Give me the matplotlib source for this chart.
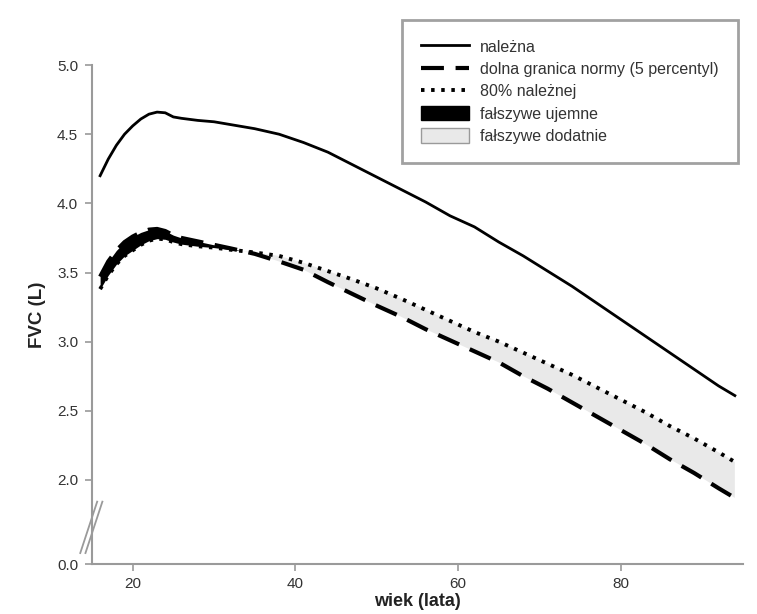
import matplotlib
matplotlib.use("Agg")
import matplotlib.pyplot as plt
import numpy as np

plt.rcParams['font.family'] = ['Liberation Sans', 'DejaVu Sans']

# ---- data ----
age_pred = [16, 17, 18, 19, 20, 21, 22, 23, 24, 25, 26, 28, 30, 32, 35, 38,
            41, 44, 47, 50, 53, 56, 59, 62, 65, 68, 71, 74, 77, 80, 83, 86,
            89, 92, 94]
fvc_pred = [4.20, 4.32, 4.42, 4.50, 4.56, 4.61, 4.645, 4.66, 4.655, 4.625,
            4.615, 4.60, 4.59, 4.57, 4.54, 4.50, 4.44, 4.37, 4.28, 4.19,
            4.10, 4.01, 3.91, 3.83, 3.72, 3.62, 3.51, 3.40, 3.28, 3.16,
            3.04, 2.92, 2.80, 2.68, 2.61]
fvc_80 = [3.38, 3.48, 3.56, 3.62, 3.66, 3.70, 3.73, 3.745, 3.74, 3.72,
          3.705, 3.69, 3.68, 3.665, 3.645, 3.62, 3.57, 3.51, 3.45, 3.385,
          3.31, 3.23, 3.15, 3.07, 3.00, 2.92, 2.84, 2.76, 2.67, 2.58,
          2.49, 2.39, 2.30, 2.20, 2.13]
fvc_lln = [3.47, 3.58, 3.66, 3.72, 3.76, 3.79, 3.81, 3.815, 3.80, 3.77,
           3.75, 3.725, 3.70, 3.675, 3.635, 3.58, 3.52, 3.43, 3.345, 3.26,
           3.18, 3.09, 3.01, 2.93, 2.85, 2.75, 2.66, 2.56, 2.46, 2.36,
           2.26, 2.15, 2.05, 1.94, 1.87]

x_ticks = [20, 40, 60, 80]
y_ticks = [2.0, 2.5, 3.0, 3.5, 4.0, 4.5, 5.0]
y_bottom = 1.392
bottom_label = "0.0"

labels = ["należna", "dolna granica normy (5 percentyl)", "80% należnej",
          "fałszywe ujemne", "fałszywe dodatnie"]

# ---- figure ----
fig = plt.figure(figsize=(7.57, 6.14), dpi=100)
ax = fig.add_axes([0.1215, 0.0814, 0.86, 0.8126])

a = np.array(age_pred, dtype=float)
p80 = np.array(fvc_80)
lln = np.array(fvc_lln)

ax.fill_between(a, p80, lln, where=lln >= p80, interpolate=True,
                color='black', linewidth=0, zorder=1)
ax.fill_between(a, lln, p80, where=p80 >= lln, interpolate=True,
                facecolor='#e9e9e9', edgecolor='none', zorder=1)

h_pred, = ax.plot(a, fvc_pred, color='black', lw=2.0, zorder=3)
h_lln, = ax.plot(a, lln, color='black', lw=3.0, linestyle=(0, (5.5, 2.8)),
                 zorder=3)
h_80, = ax.plot(a, p80, color='black', lw=2.8, linestyle=(0, (0.9, 1.7)),
                zorder=3)

ax.set_xlim(15, 95)
ax.set_ylim(y_bottom, 5.0)

ax.set_xticks(x_ticks)
ax.set_xticklabels([str(v) for v in x_ticks])
ax.set_yticks([y_bottom] + y_ticks)
ax.set_yticklabels([bottom_label] + [f"{v:.1f}" for v in y_ticks])

for s in ['top', 'right']:
    ax.spines[s].set_visible(False)
for s in ['left', 'bottom']:
    ax.spines[s].set_color('#9a9a9a')
    ax.spines[s].set_linewidth(1.5)
ax.tick_params(axis='both', colors='#9a9a9a', length=5, width=1.2,
               labelcolor='#333333', labelsize=11)
ax.tick_params(axis='x', pad=4)
ax.tick_params(axis='y', pad=5)

ax.set_xlabel("wiek (lata)", fontsize=13, fontweight='bold', color='#222222',
              labelpad=2)
ax.set_ylabel("FVC (L)", fontsize=13.5, fontweight='bold', color='#222222',
              labelpad=8)

# axis break marks
for dx in (0.0, 0.008):
    ax.plot([0.008 + dx, -0.018 + dx], [0.125, 0.022], transform=ax.transAxes,
            color='#9a9a9a', lw=1.3, clip_on=False, zorder=5)

fp_patch = matplotlib.patches.Patch(facecolor='#e9e9e9', edgecolor='#9a9a9a',
                                    linewidth=1.0)
fn_patch = matplotlib.patches.Patch(facecolor='black', edgecolor='black')
leg = ax.legend([h_pred, h_lln, h_80, fn_patch, fp_patch], labels,
                loc='upper right', bbox_to_anchor=(1.0, 1.1),
                fontsize=11.5, frameon=True, fancybox=False,
                handlelength=3.0, handleheight=1.0, labelspacing=0.42,
                borderpad=1.2, handletextpad=0.7, borderaxespad=0.3)
leg.get_frame().set_edgecolor('#8a8a8a')
leg.get_frame().set_linewidth(2.0)
for t in leg.get_texts():
    t.set_color('#333333')

fig.savefig("out.png", dpi=100)
